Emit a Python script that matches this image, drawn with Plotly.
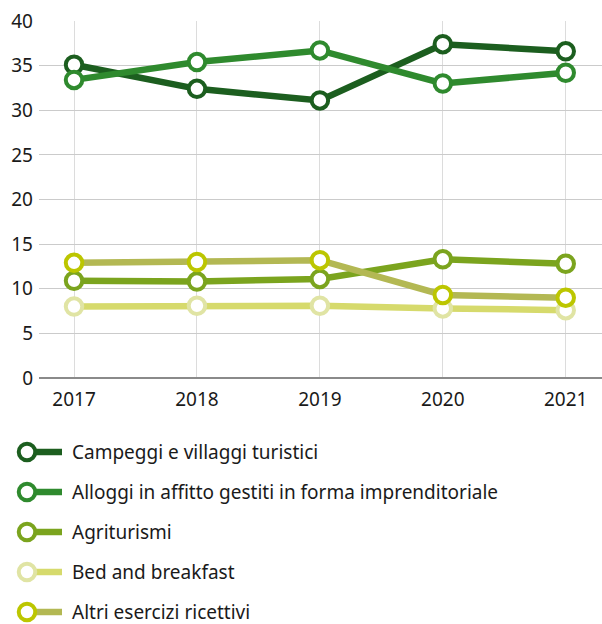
import plotly.graph_objects as go

# Years and series (percent share)
years = [2017, 2018, 2019, 2020, 2021]

series_names = [
    "Campeggi e villaggi turistici",
    "Alloggi in affitto gestiti in forma imprenditoriale",
    "Agriturismi",
    "Bed and breakfast",
    "Altri esercizi ricettivi",
]
campeggi = [35.1, 32.4, 31.1, 37.4, 36.6]
alloggi = [33.4, 35.4, 36.7, 33.0, 34.2]
agriturismi = [10.9, 10.8, 11.1, 13.3, 12.8]
bed_breakfast = [8.0, 8.1, 8.1, 7.8, 7.6]
altri = [12.9, 13.0, 13.2, 9.3, 9.0]

values = [campeggi, alloggi, agriturismi, bed_breakfast, altri]
line_colors = ["#1c5e1f", "#2f8a2e", "#7ba41e", "#d6da6c", "#b3b853"]
marker_colors = ["#1c5e1f", "#2f8a2e", "#7ba41e", "#e0e4a4", "#bcc600"]

y_ticks = [0, 5, 10, 15, 20, 25, 30, 35, 40]

W, H = 602, 624
FONT = "Noto Sans"
TEXT = "#1a1a1a"

fig = go.Figure()

for name, vals, lc, mc in zip(series_names, values, line_colors, marker_colors):
    fig.add_trace(go.Scatter(
        x=years, y=vals, name=name, mode="lines+markers",
        line=dict(color=lc, width=6.5),
        marker=dict(size=16.5, color="white", line=dict(color=mc, width=4)),
        cliponaxis=False, showlegend=False,
        xaxis="x", yaxis="y",
    ))

# Legend drawn in a pixel-scaled overlay axis
row_y = [452, 492, 532, 572, 612]
for name, lc, mc, ry in zip(series_names, line_colors, marker_colors, row_y):
    fig.add_trace(go.Scatter(
        x=[34, 62], y=[ry, ry], mode="lines",
        line=dict(color=lc, width=6.5),
        xaxis="x2", yaxis="y2", showlegend=False, hoverinfo="skip",
        cliponaxis=False,
    ))
    fig.add_trace(go.Scatter(
        x=[27], y=[ry], mode="markers",
        marker=dict(size=16.5, color="white", line=dict(color=mc, width=4)),
        xaxis="x2", yaxis="y2", showlegend=False, hoverinfo="skip",
        cliponaxis=False,
    ))
    fig.add_annotation(
        x=70, y=ry, xref="x2", yref="y2", text=name, showarrow=False,
        xanchor="left", yanchor="middle",
        font=dict(family=FONT, size=19, color=TEXT),
    )

plot_left, plot_top, plot_bottom = 39, 21, 378

fig.update_layout(
    width=W, height=H,
    margin=dict(l=0, r=0, t=0, b=0, autoexpand=False),
    paper_bgcolor="white", plot_bgcolor="rgba(0,0,0,0)",
    font=dict(family=FONT, size=19, color=TEXT),
    xaxis=dict(
        domain=[plot_left / W, 1],
        range=[2016.715, 2021.295],
        tickvals=years, ticktext=[str(y) for y in years],
        showgrid=True, gridcolor="#dcdcdc", gridwidth=1.2,
        zeroline=False, showline=False, ticks="",
        ticklabelstandoff=8, automargin=False,
        tickfont=dict(family=FONT, size=19, color=TEXT),
        anchor="y",
    ),
    yaxis=dict(
        domain=[(H - plot_bottom) / H, (H - plot_top) / H],
        range=[0, 40],
        tickvals=y_ticks,
        showgrid=True, gridcolor="#cbcbcb", gridwidth=1.2,
        zeroline=True, zerolinecolor="#8a8a8a", zerolinewidth=2,
        showline=False, ticks="",
        ticklabelstandoff=5, automargin=False,
        tickfont=dict(family=FONT, size=19, color=TEXT),
        anchor="x",
    ),
    xaxis2=dict(domain=[0, 1], range=[0, W], visible=False, fixedrange=True,
                anchor="y2", automargin=False),
    yaxis2=dict(domain=[0, 1], range=[H, 0], visible=False, fixedrange=True,
                anchor="x2", automargin=False),
    showlegend=False,
)

fig.write_html("out.html")
